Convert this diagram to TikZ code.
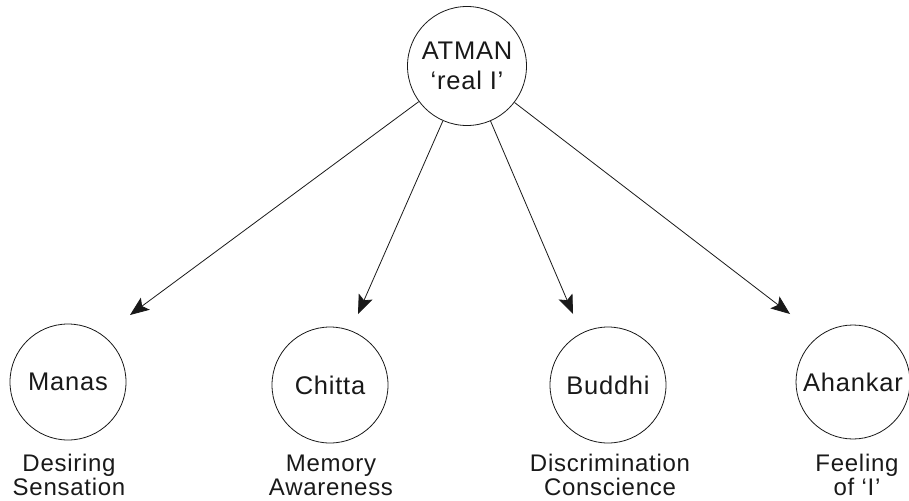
\documentclass[tikz,border=0pt]{standalone}
\usepackage{fontspec}
\setmainfont{Liberation Sans}[LetterSpace=3]
\usetikzlibrary{arrows.meta}
\begin{document}
\begin{tikzpicture}[x=1pt,y=-1pt,
  mind/.style={draw=black!90, circle, minimum size=116pt, inner sep=0pt, line width=0.8pt,
    text=black!90, font=\fontsize{25.5}{30}\selectfont, align=center},
  lbl/.style={text=black!90, font=\fontsize{24}{24.5}\selectfont, align=center, anchor=base, inner sep=0pt},
  link/.style={draw=black!90, -{Stealth[length=19pt,width=15pt,inset=4pt]}, line width=0.8pt}]
\useasboundingbox (0,0) rectangle (909,500);
\node[mind, minimum size=119pt] (atman) at (467,66) {ATMAN\\‘real I’};
\node[mind] (manas) at (68,382) {Manas};
\node[mind] (chitta) at (330,385) {Chitta};
\node[mind] (buddhi) at (608,385) {Buddhi};
\node[mind, minimum size=114pt] (ahankar) at (853,382) {Ahankar};
\coordinate (t1) at (130,315);
\coordinate (t2) at (358,314);
\coordinate (t3) at (573,314);
\coordinate (t4) at (790,314);
\draw[link] (atman) -- (t1);
\draw[link] (atman) -- (t2);
\draw[link] (atman) -- (t3);
\draw[link] (atman) -- (t4);
\node[lbl] (l1) at (69,495.5) {Desiring\\Sensation};
\node[lbl] (l2) at (331,495.5) {Memory\\Awareness};
\node[lbl] (l3) at (610,495.5) {Discrimination\\Conscience};
\node[lbl] (l4) at (857,495.5) {Feeling\\of ‘I’};
\end{tikzpicture}
\end{document}
